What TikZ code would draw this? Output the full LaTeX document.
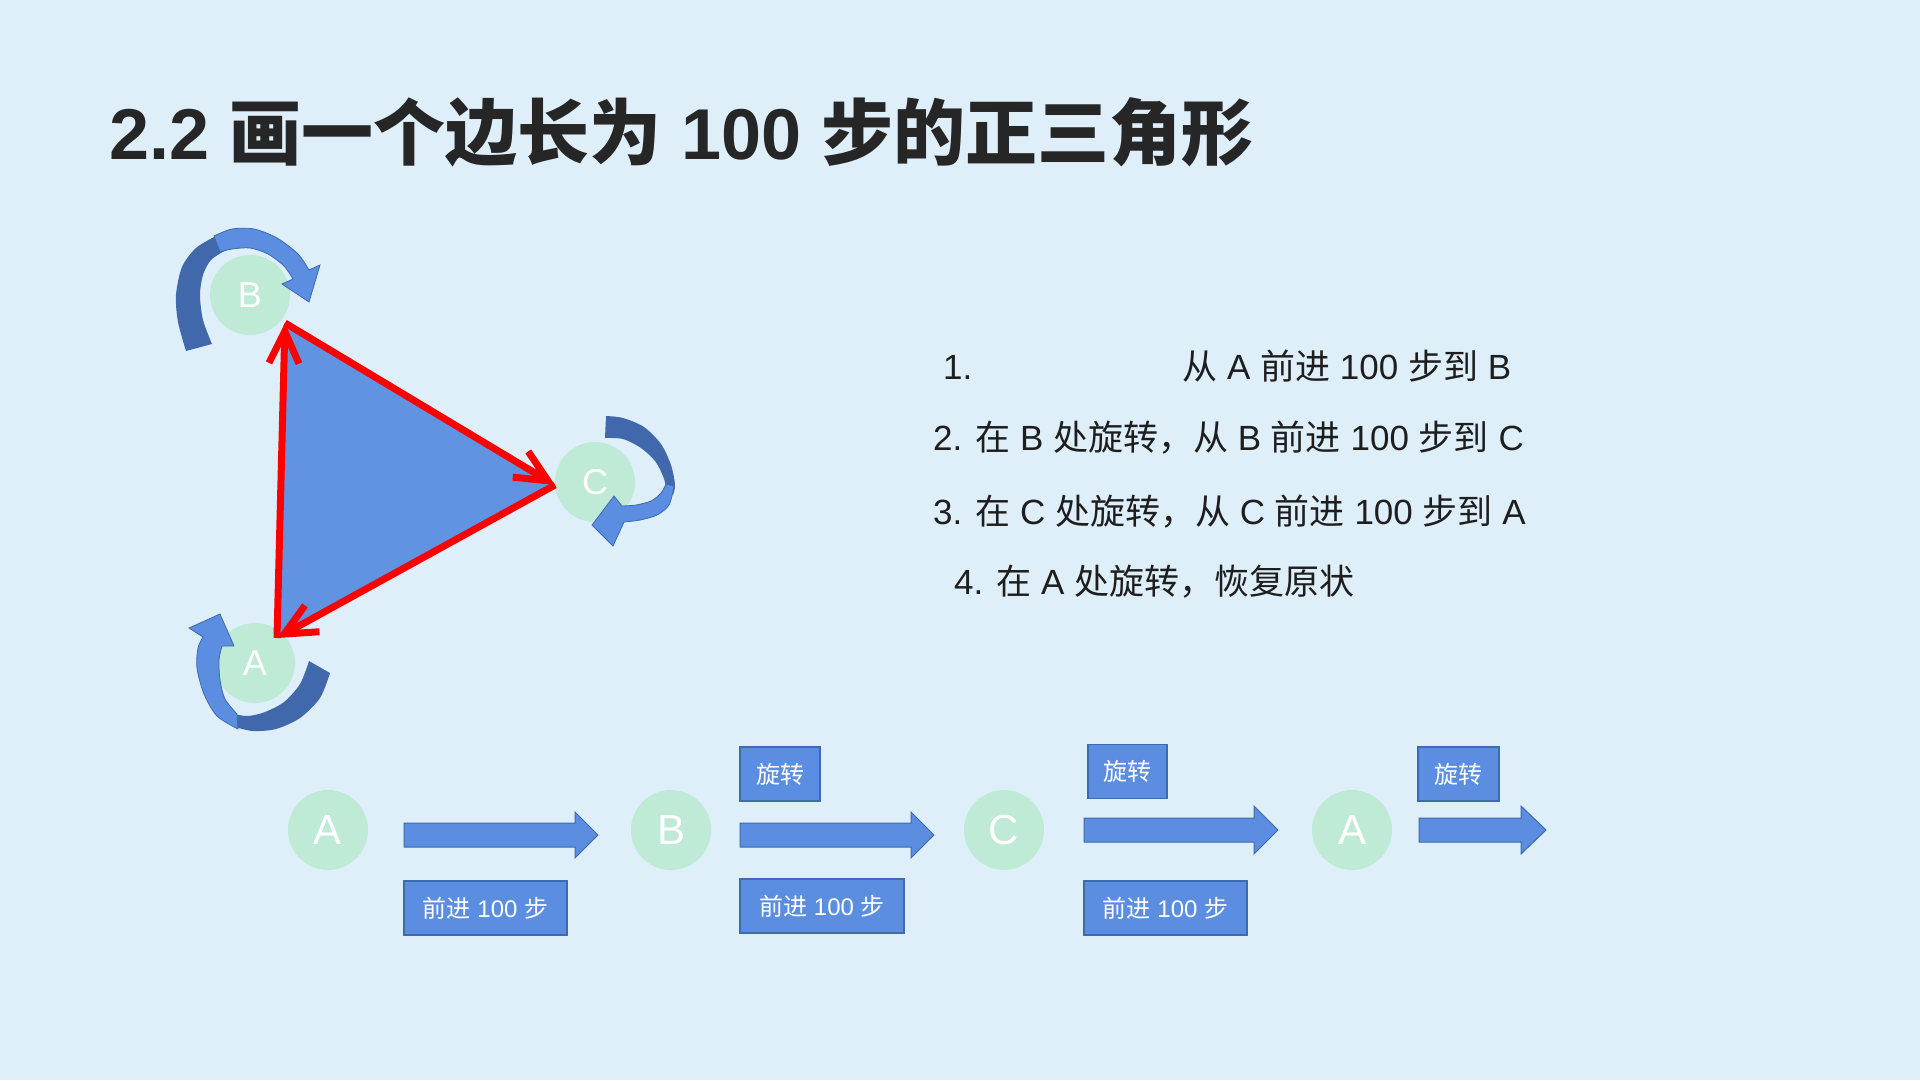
\documentclass[tikz,border=0pt]{standalone}
\usepackage{fontspec}
\setmainfont{Liberation Sans}
\newfontfamily\cjk{Noto Sans CJK SC}
\usetikzlibrary{arrows.meta}
\newcommand\zh[1]{{\cjk #1}}
\definecolor{bgc}{RGB}{222,239,250}
\definecolor{mint}{RGB}{190,234,214}
\definecolor{bfill}{RGB}{91,142,224}
\definecolor{bline}{RGB}{62,106,176}
\definecolor{tfill}{RGB}{96,148,226}
\definecolor{darkarr}{RGB}{64,104,170}
\definecolor{txt}{RGB}{30,30,30}
\definecolor{ttl}{RGB}{38,38,38}
\begin{document}
\begin{tikzpicture}[x=1pt,y=-1pt,
  dot/.style={circle, fill=mint, minimum size=80pt, inner sep=0pt, text=white},
  toplbl/.style={font=\fontsize{36}{40}\selectfont},
  botlbl/.style={font=\fontsize{42}{46}\selectfont},
  lbox/.style={draw=bline, line width=1.2pt, fill=bfill, text=white, inner sep=0pt, minimum height=54pt, font=\fontsize{24}{28}\selectfont},
  blk/.style={fill=bfill, draw=bline, line width=1pt},
  lite/.style={fill=bfill, draw=bline, line width=0.8pt},
  dark/.style={fill=darkarr},
  redarr/.style={draw=red, line width=7pt, -{Straight Barb[length=32pt,width=30pt]}},
  item/.style={anchor=base west, inner sep=0pt, text=txt, font=\fontsize{35}{42}\selectfont}
]
\fill[bgc] (0,0) rectangle (1920,1080);
\useasboundingbox (0,0) rectangle (1920,1080);

% title
\node[anchor=base west, inner sep=0pt, text=ttl, font=\fontsize{72}{84}\selectfont\bfseries] (title) at (109,159)
  {2.2 {\cjk\bfseries 画一个边长为} 100 {\cjk\bfseries 步的正三角形}};

% top circles
\node[dot, toplbl] (cB) at (250,295) {B};
\node[dot, toplbl] (cC) at (595,482) {C};
\node[dot, toplbl] (cA) at (255,663) {A};

% curved arrow around B
\path[dark] plot[smooth] coordinates {(186,351) (178,322) (176,295) (182,267) (196,248) (216,236)}
  -- plot[smooth] coordinates {(226,250) (211,260) (203,275) (200,295) (203,320) (212,344)} -- cycle;
\path[lite] plot[smooth] coordinates {(214,236) (232,229) (254,229) (277,238) (298,254) (309,270)}
  -- (320,265) -- (309,302) -- (282,284)
  -- plot[smooth] coordinates {(293,279) (284,266) (268,254) (250,248) (232,249) (220,252)} -- cycle;

% curved arrow around C
\path[dark] plot[smooth] coordinates {(606,416) (623,418) (644,427) (661,444) (671,465) (675,485) (673,495)}
  -- plot[smooth] coordinates {(667,490) (663,476) (655,461) (641,448) (623,439) (605,438)} -- cycle;
\path[lite] plot[smooth] coordinates {(674,486) (669,505) (657,515) (640,520) (624,522)}
  -- (613,546) -- (592,525) -- (614,496)
  -- plot[smooth] coordinates {(622,506) (636,505) (651,501) (661,493) (666,484)} -- cycle;

% curved arrow around A
\path[dark] plot[smooth] coordinates {(330,673) (320,698) (300,718) (276,729) (253,731) (235,727)}
  -- plot[smooth] coordinates {(234,714) (248,716) (265,712) (284,702) (300,684) (309,661)} -- cycle;
\path[lite] plot[smooth] coordinates {(238,729) (217,716) (204,694) (197,668) (198,648) (203,637)}
  -- (189,628) -- (220,614) -- (234,646)
  -- plot[smooth] coordinates {(222,646) (219,660) (220,680) (225,699) (237,714)} -- cycle;

% triangle
\coordinate (vA) at (277,638);
\coordinate (vB) at (285,323);
\coordinate (vC) at (555,485);
\fill[tfill] (vA) -- (vB) -- (vC) -- cycle;
\draw[redarr] (vA) -- (vB);
\draw[redarr] (vB) -- (vC);
\draw[redarr] (vC) -- (vA);

% steps list
\node[item] (l1) at (943,379) {1.\hspace{210pt}\zh{从} A \zh{前进} 100 \zh{步到} B};
\node[item] (l2) at (933,450) {2. \zh{在} B \zh{处旋转，从} B \zh{前进} 100 \zh{步到} C};
\node[item] (l3) at (933,524) {3. \zh{在} C \zh{处旋转，从} C \zh{前进} 100 \zh{步到} A};
\node[item] (l4) at (954,594) {4. \zh{在} A \zh{处旋转，恢复原状}};

% bottom row
\node[dot, botlbl] (bA) at (328,830) {A};
\node[dot, botlbl] (bB) at (671,830) {B};
\node[dot, botlbl] (bC) at (1004,830) {C};
\node[dot, botlbl] (bA2) at (1352,830) {A};

\path[blk] (404,823) -- (575,823) -- (575,812) -- (598,835) -- (575,858) -- (575,847) -- (404,847) -- cycle;
\path[blk] (740,823) -- (911,823) -- (911,812) -- (934,835) -- (911,858) -- (911,847) -- (740,847) -- cycle;
\path[blk] (1084,818) -- (1254,818) -- (1254,806) -- (1278,830) -- (1254,854) -- (1254,842) -- (1084,842) -- cycle;
\path[blk] (1419,818) -- (1521,818) -- (1521,806) -- (1546,830) -- (1521,854) -- (1521,842) -- (1419,842) -- cycle;

\node[lbox, minimum width=163pt] (f1) at (485.5,908) {\zh{前进} 100 \zh{步}};
\node[lbox, minimum width=164pt] (f2) at (822,906) {\zh{前进} 100 \zh{步}};
\node[lbox, minimum width=163pt] (f3) at (1165.5,908) {\zh{前进} 100 \zh{步}};
\node[lbox, minimum width=80pt] (r1) at (780,774) {\zh{旋转}};
\node[lbox, minimum width=79pt] (r2) at (1127.5,771.5) {\zh{旋转}};
\node[lbox, minimum width=81pt] (r3) at (1458.5,774) {\zh{旋转}};
\end{tikzpicture}
\end{document}
